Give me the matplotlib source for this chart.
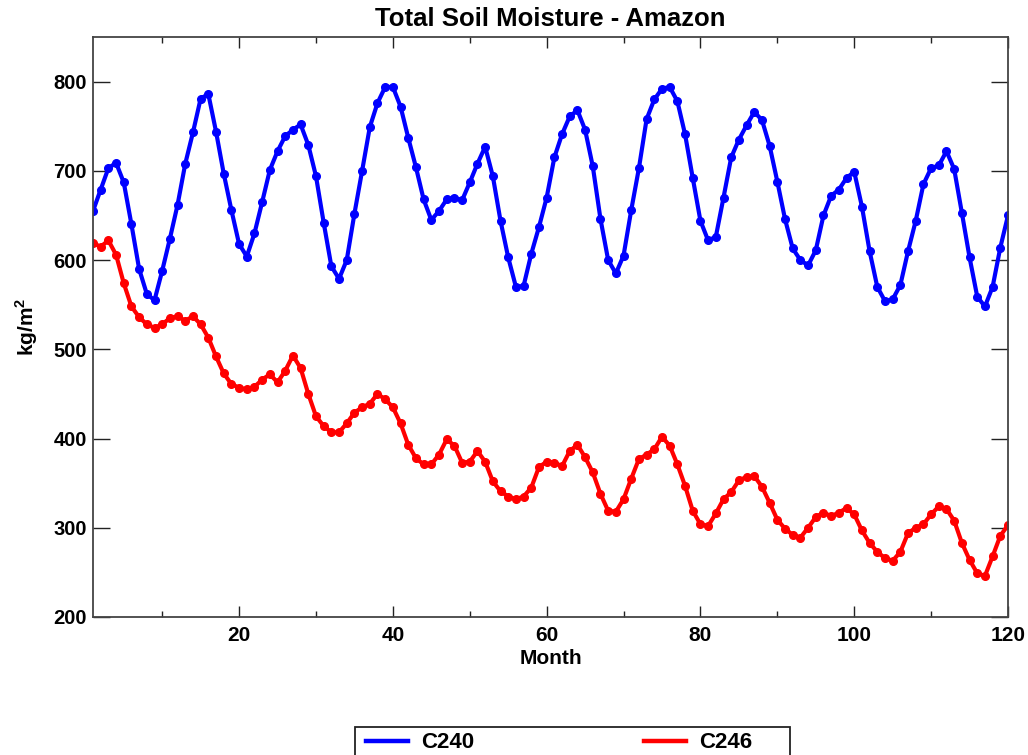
import numpy as np
import matplotlib
matplotlib.use("Agg")
import matplotlib.pyplot as plt
from matplotlib.lines import Line2D
from matplotlib.patches import Rectangle

plt.rcParams['font.family'] = ['Liberation Sans', 'DejaVu Sans']
plt.rcParams['font.weight'] = 'bold'
plt.rcParams['mathtext.fontset'] = 'custom'
plt.rcParams['mathtext.rm'] = 'Liberation Sans:bold'
plt.rcParams['mathtext.bf'] = 'Liberation Sans:bold'

title = "Total Soil Moisture - Amazon"
series_names = ["C240", "C246"]
months = list(range(1, 121))

c240 = [655, 679, 703, 709, 687, 640, 590, 562, 555, 588,
        624, 662, 708, 743, 781, 786, 744, 697, 656, 618,
        604, 630, 665, 701, 722, 739, 746, 752, 729, 694,
        642, 593, 579, 600, 652, 700, 749, 776, 794, 794,
        772, 737, 704, 668, 645, 655, 668, 670, 667, 687,
        708, 727, 694, 644, 603, 570, 571, 607, 637, 670,
        715, 741, 761, 768, 746, 705, 646, 600, 585, 605,
        656, 703, 758, 780, 792, 794, 778, 741, 692, 644,
        622, 626, 670, 715, 735, 751, 766, 757, 728, 688,
        646, 613, 600, 594, 611, 650, 672, 679, 692, 699,
        660, 610, 570, 554, 556, 572, 610, 644, 685, 703,
        706, 722, 702, 653, 603, 559, 548, 570, 614, 650]

c246 = [619, 615, 622, 606, 574, 548, 536, 528, 524, 528,
        535, 537, 532, 537, 528, 513, 492, 473, 461, 457,
        455, 458, 466, 472, 463, 476, 493, 479, 450, 425,
        414, 407, 407, 417, 429, 435, 439, 450, 444, 435,
        417, 393, 378, 371, 371, 382, 399, 392, 373, 374,
        386, 374, 352, 341, 335, 332, 335, 345, 368, 374,
        373, 369, 386, 393, 379, 362, 338, 319, 318, 332,
        355, 377, 382, 388, 402, 392, 371, 347, 319, 304,
        302, 316, 332, 340, 353, 357, 358, 346, 328, 309,
        299, 292, 289, 300, 312, 317, 313, 317, 322, 315,
        297, 283, 273, 266, 263, 273, 294, 300, 304, 315,
        324, 321, 308, 283, 264, 249, 246, 268, 291, 303]

x_major = [20, 40, 60, 80, 100, 120]
x_minor = [10, 30, 50, 70, 90, 110]
y_ticks = [200, 300, 400, 500, 600, 700, 800]

W, H = 1028, 755
fig = plt.figure(figsize=(W / 100, H / 100), dpi=100)
ax = fig.add_axes([93 / W, 1 - 617 / H, (1008 - 93) / W, (617 - 37) / H])

ax.plot(months, c240, color='#0000ff', lw=3, marker='o', ms=5.5, label=series_names[0])
ax.plot(months, c246, color='#ff0000', lw=3, marker='o', ms=5.5, label=series_names[1])

ax.set_xlim(1, 120)
ax.set_ylim(200, 850)
ax.set_xticks(x_major)
ax.set_xticks(x_minor, minor=True)
ax.set_yticks(y_ticks)

ax.tick_params(axis='x', which='major', direction='in', length=8, width=1.0,
               top=True, bottom=True, labelsize=15, pad=6.5, color='#222222')
ax.tick_params(axis='x', which='minor', direction='in', length=4, width=1.0,
               top=True, bottom=True, color='#222222')
ax.tick_params(axis='y', which='major', direction='in', length=12, width=1.0,
               left=True, right=True, labelsize=14.5, pad=4.5, color='#222222')
for lab in ax.get_xticklabels() + ax.get_yticklabels():
    lab.set_fontweight('bold')

for sp in ax.spines.values():
    sp.set_color('#444444')
    sp.set_linewidth(1.3)

ax.set_title(title, fontsize=18.5, fontweight='bold', pad=8)
ax.set_xlabel("Month", fontsize=15, fontweight='bold')
ax.xaxis.set_label_coords(0.5, -0.055)
ax.set_ylabel(r'kg/m$^{\mathbf{2}}$', fontsize=15, fontweight='bold')
ax.yaxis.set_label_coords(-0.058, 0.5)

handles = [Line2D([], [], color='#0000ff', lw=3.2),
           Line2D([], [], color='#ff0000', lw=3.2)]
fig.legend(handles, series_names, ncol=2, frameon=False, loc='center left',
           bbox_to_anchor=(366 / W, 1 - 743 / H), borderpad=0, borderaxespad=0,
           handlelength=1.9, handletextpad=0.6, columnspacing=7.6,
           prop={'size': 16, 'weight': 'bold'})
fig.patches.append(Rectangle((355 / W, -20 / H), (790 - 355) / W, (755 + 20 - 727) / H,
                             transform=fig.transFigure, fill=False, edgecolor='#222222',
                             lw=1.3, clip_on=False))

fig.savefig("out.png", dpi=100)
